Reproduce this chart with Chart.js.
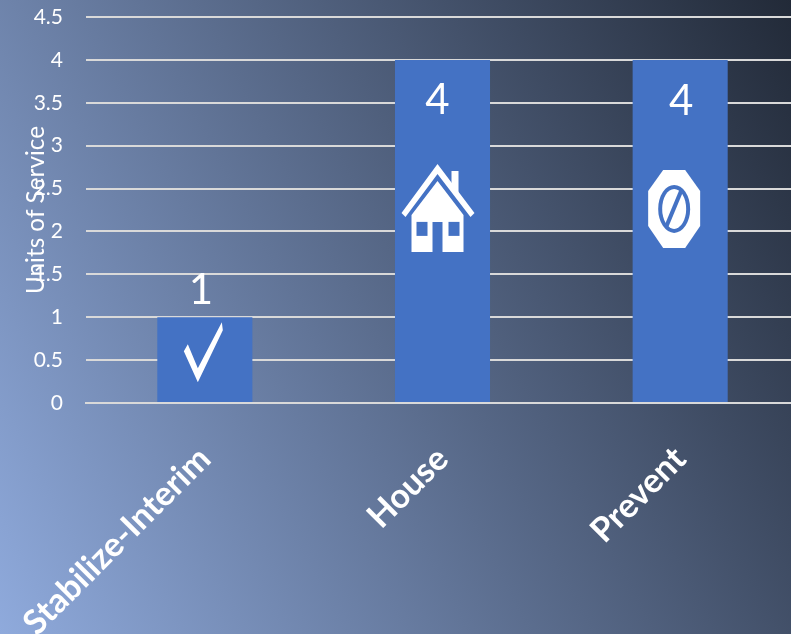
<!DOCTYPE html>
<html>
<head>
<meta charset="utf-8">
<style>
  html, body { margin: 0; padding: 0; overflow: hidden; width: 791px; height: 634px; }
  #frame { position: relative; width: 791px; height: 634px; overflow: hidden;
    background: linear-gradient(62deg, #8faadc 0%, #222a38 100%); }
  canvas { display: block; }
</style>
<script src="https://cdn.jsdelivr.net/npm/chart.js@4"></script>
</head>
<body>
<div id="frame"><canvas id="chart" width="799" height="634"></canvas></div>
<script>
const categories = ['Stabilize-Interim', 'House', 'Prevent'];
const unitsOfService = [1, 4, 4];
const axisTitle = 'Units of Service';

const BAR_BLUE = '#4472c4';
const WHITE = '#ffffff';
const GRID = '#d9d9d9';
const FONT = 'Lato, sans-serif';

function polygon(ctx, points) {
  ctx.beginPath();
  points.forEach(([x, y], i) => (i ? ctx.lineTo(x, y) : ctx.moveTo(x, y)));
  ctx.closePath();
  ctx.fill();
}

function drawCheck(ctx) {
  ctx.fillStyle = WHITE;
  polygon(ctx, [[-17, 27], [-21, 34], [-7, 65], [18, 13], [17, 5], [-7, 51]]);
}

function drawHouse(ctx) {
  ctx.fillStyle = WHITE;
  polygon(ctx, [[0, 0], [37, 49], [33, 53], [0, 10], [-32, 53], [-36, 49]]);
  polygon(ctx, [[14, 7], [21, 7], [21, 29], [14, 20]]);
  polygon(ctx, [[0, 17], [26, 51], [26, 88], [5, 88], [5, 58], [-5, 58], [-5, 88], [-26, 88], [-26, 51]]);
  ctx.fillStyle = BAR_BLUE;
  ctx.fillRect(-21, 58, 11, 14);
  ctx.fillRect(11, 58, 11, 14);
}

function drawStop(ctx) {
  ctx.fillStyle = WHITE;
  polygon(ctx, [[-11, -39], [11, -39], [26, -18], [26, 17], [11, 39], [-11, 39], [-26, 17], [-26, -18]]);
  ctx.fillStyle = BAR_BLUE;
  ctx.beginPath();
  ctx.ellipse(0, 0, 16, 24, 0, 0, Math.PI * 2);
  ctx.fill();
  ctx.fillStyle = WHITE;
  ctx.beginPath();
  ctx.ellipse(0, 0, 12, 20, 0, 0, Math.PI * 2);
  ctx.fill();
  ctx.strokeStyle = BAR_BLUE;
  ctx.lineWidth = 4;
  ctx.beginPath();
  ctx.moveTo(7, -18);
  ctx.lineTo(-8, 18);
  ctx.stroke();
}

// Icon and value label placement, as offsets from the top centre of each bar.
const barDecor = [
  { draw: drawCheck, dx: 0, dy: 0, labelDx: -4, labelDy: -27 },
  { draw: drawHouse, dx: -5, dy: 104, labelDx: -5, labelDy: 41 },
  { draw: drawStop, dx: -6, dy: 149, labelDx: 1, labelDy: 42 }
];

const barDecorPlugin = {
  id: 'barDecor',
  afterDatasetsDraw(chart) {
    const { ctx } = chart;
    const values = chart.data.datasets[0].data;
    chart.getDatasetMeta(0).data.forEach((bar, i) => {
      const d = barDecor[i];
      ctx.save();
      ctx.translate(bar.x + d.dx, bar.y + d.dy);
      d.draw(ctx);
      ctx.restore();
      ctx.save();
      ctx.fillStyle = WHITE;
      ctx.font = '400 42px ' + FONT;
      ctx.textAlign = 'center';
      ctx.textBaseline = 'middle';
      ctx.fillText(String(values[i]), bar.x + d.labelDx, bar.y + d.labelDy);
      ctx.restore();
    });
  }
};

new Chart(document.getElementById('chart'), {
  type: 'bar',
  data: {
    labels: categories,
    datasets: [{
      data: unitsOfService,
      backgroundColor: BAR_BLUE,
      categoryPercentage: 0.4,
      barPercentage: 1
    }]
  },
  plugins: [barDecorPlugin],
  options: {
    responsive: false,
    animation: false,
    layout: { padding: { top: 17, left: 0, right: 0, bottom: 0 } },
    plugins: { legend: { display: false }, tooltip: { enabled: false } },
    scales: {
      x: {
        afterFit(scale) {
          scale.height = 231;
          scale.paddingLeft = 0;
          scale.paddingRight = 0;
        },
        grid: { display: false },
        border: { display: true, color: GRID, width: 2 },
        ticks: {
          color: WHITE,
          font: { family: FONT, size: 34, weight: 'bold' },
          maxRotation: 45,
          minRotation: 45,
          padding: 28,
          autoSkip: false
        }
      },
      y: {
        min: 0,
        max: 4.5,
        afterFit(scale) {
          scale.width = 86;
          scale.paddingTop = 0;
          scale.paddingBottom = 0;
        },
        title: {
          display: true,
          text: axisTitle,
          color: WHITE,
          font: { family: FONT, size: 24.3 },
          padding: { top: 22, bottom: 0 }
        },
        grid: { color: GRID, lineWidth: 2, drawTicks: false },
        border: { display: false },
        ticks: {
          stepSize: 0.5,
          callback: value => String(value),
          color: WHITE,
          font: { family: FONT, size: 21 },
          padding: 23
        }
      }
    }
  }
});
</script>
</body>
</html>
